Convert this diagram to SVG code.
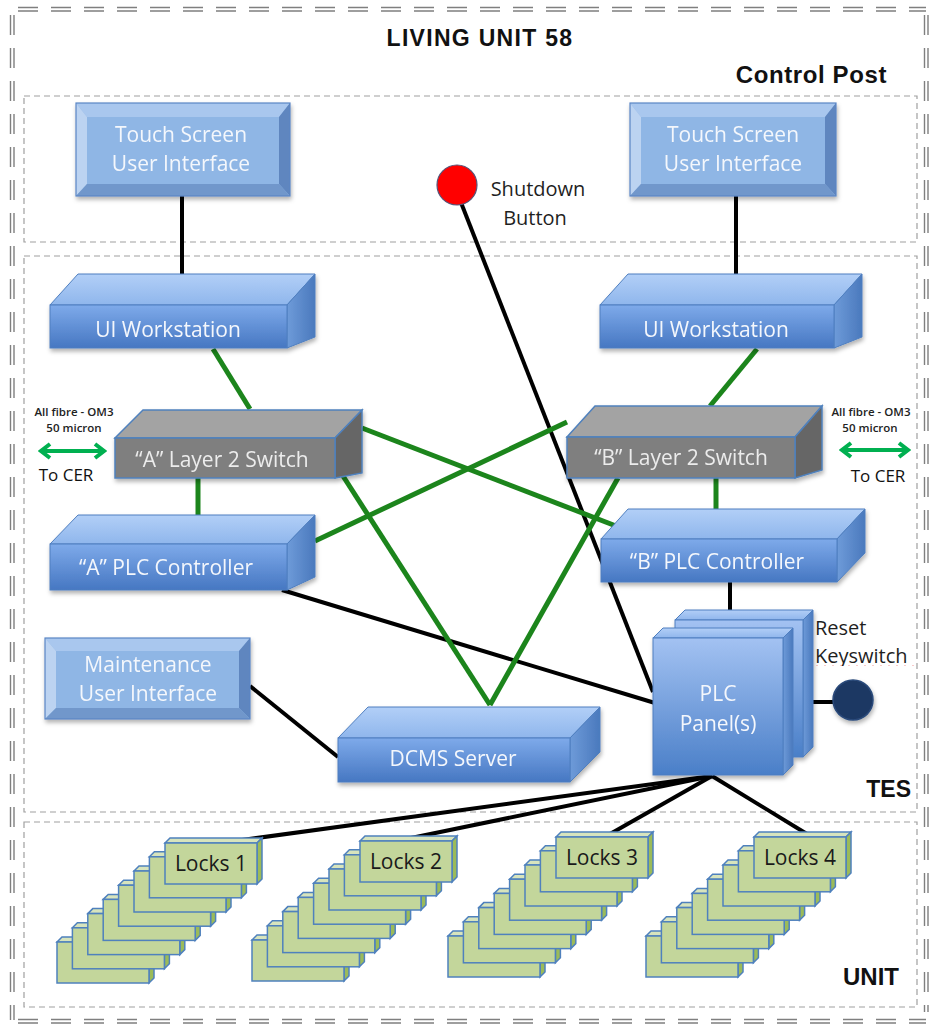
<svg xmlns="http://www.w3.org/2000/svg" xmlns:xlink="http://www.w3.org/1999/xlink" width="930" height="1027" viewBox="0 0 930 1027">
<defs>
<style>
.frame{fill:none;stroke:#7f7f7f;stroke-width:1.4;stroke-dasharray:20 13}
.panel{fill:none;stroke:#a0a0a0;stroke-width:1.2;stroke-dasharray:6 4}
.title{font-family:"Liberation Sans",Arial,sans-serif;font-weight:bold;fill:#111}
.lbl{font-family:"Open Sans","Liberation Sans",sans-serif;font-size:21px;fill:#f4f7fc;text-anchor:middle}
.lblg{font-family:"Open Sans","Liberation Sans",sans-serif;font-size:21px;fill:#ececec;text-anchor:middle}
.note{font-family:"Open Sans","Liberation Sans",sans-serif;font-size:20px;fill:#1f1f1f}
.small{font-family:"Open Sans","Liberation Sans",sans-serif;font-size:11.5px;font-weight:600;fill:#222;text-anchor:middle}
.cer{font-family:"Open Sans","Liberation Sans",sans-serif;font-size:17px;fill:#111;text-anchor:middle}
.lock{font-family:"Open Sans","Liberation Sans",sans-serif;font-size:21px;fill:#1a1a1a;text-anchor:middle}
.bf{fill:url(#gFront);stroke:#4f7fc0;stroke-width:1}
.bt{fill:url(#gTop);stroke:#4f7fc0;stroke-width:1}
.bs{fill:url(#gSide);stroke:#4f7fc0;stroke-width:1}
.gf{fill:#7f7f7f;stroke:#4f81bd;stroke-width:1.5}
.gt{fill:#a3a3a3;stroke:#4f81bd;stroke-width:1.5}
.gs{fill:#666;stroke:#4f81bd;stroke-width:1.5}
.bev-face{fill:#8fb6e5}
.bev-t{fill:#a9c7ee}
.bev-l{fill:#bcd3f1}
.bev-r{fill:#5f86bf}
.bev-b{fill:#7197cb}
.bev-o{fill:none;stroke:#5b86c5;stroke-width:1.2}
.lf{fill:#c3d69b;stroke:#4f81bd;stroke-width:1.5}
.lt{fill:#d7e4bd;stroke:#4f81bd;stroke-width:1.5}
.ls{fill:#9bbb59;stroke:#4f81bd;stroke-width:1.5}
.green{stroke:#1c851c;stroke-width:5;fill:none;stroke-linecap:butt}
.black{stroke:#000;stroke-width:4;fill:none}
.arrow{stroke:#00b050;stroke-width:4;fill:none;marker-start:url(#ah);marker-end:url(#ah)}
</style>
<linearGradient id="gFront" x1="0" y1="0" x2="0" y2="1"><stop offset="0" stop-color="#7eaaea"/><stop offset="1" stop-color="#4677c2"/></linearGradient>
<linearGradient id="gTop" x1="0" y1="0" x2="0" y2="1"><stop offset="0" stop-color="#b2cff7"/><stop offset="1" stop-color="#8fb6ec"/></linearGradient>
<linearGradient id="gSide" x1="0" y1="0" x2="1" y2="0"><stop offset="0" stop-color="#6e9bd9"/><stop offset="1" stop-color="#4a79bd"/></linearGradient>
<linearGradient id="gPanel" x1="0" y1="0" x2="0" y2="1"><stop offset="0" stop-color="#a3c2f2"/><stop offset="1" stop-color="#4a7fc8"/></linearGradient>
<marker id="ah" viewBox="0 0 14 18" refX="10" refY="9" markerWidth="14" markerHeight="18" markerUnits="userSpaceOnUse" orient="auto-start-reverse">
<path d="M2,2 L11,9 L2,16" fill="none" stroke="#00b050" stroke-width="4"/>
</marker>
<filter id="sh" x="-10%" y="-10%" width="130%" height="140%"><feDropShadow dx="1" dy="3" stdDeviation="2" flood-color="#000" flood-opacity="0.3"/></filter>
<g id="lockbox">
<polygon class="lt" points="0,0 5,-5 97,-5 92,0"/>
<polygon class="ls" points="92,0 97,-5 97,36 92,41"/>
<rect class="lf" x="0" y="0" width="92" height="41"/>
</g>
<clipPath id="kclip"><rect x="800" y="600" width="117" height="66"/></clipPath>
</defs>

<!-- outer frame -->
<g id="frame">
<line class="frame" x1="18" y1="7.5" x2="926" y2="7.5"/>
<line class="frame" x1="18" y1="11" x2="926" y2="11"/>
<line class="frame" x1="10.5" y1="15" x2="10.5" y2="1020"/>
<line class="frame" x1="14" y1="15" x2="14" y2="1020"/>
<line class="frame" x1="18" y1="1019.5" x2="926" y2="1019.5"/>
<line class="frame" x1="18" y1="1023" x2="926" y2="1023"/>
<line class="frame" x1="924.5" y1="15" x2="924.5" y2="1012"/>
<line class="frame" x1="928" y1="15" x2="928" y2="1012"/>
<rect class="panel" x="24" y="96" width="893" height="146"/>
<rect class="panel" x="24" y="256" width="893" height="556"/>
<rect class="panel" x="24" y="822" width="893" height="185"/>
<text class="title" x="480" y="46" font-size="23" letter-spacing="1.3" text-anchor="middle">LIVING UNIT 58</text>
<text class="title" x="887" y="83" font-size="24" letter-spacing="0.6" text-anchor="end">Control Post</text>
<text class="title" x="911" y="797" font-size="23" text-anchor="end">TES</text>
<text class="title" x="899" y="985" font-size="24" text-anchor="end">UNIT</text>
</g>

<!-- connectors -->
<g id="connectors">
<line class="black" x1="182" y1="196" x2="182" y2="276"/>
<line class="black" x1="736" y1="196" x2="736" y2="276"/>
<line class="black" x1="460" y1="200" x2="653" y2="692"/>
<line class="black" x1="282" y1="590" x2="655" y2="703"/>
<line class="black" x1="730" y1="582" x2="730" y2="614"/>
<line class="black" x1="793" y1="702" x2="836" y2="702"/>
<line class="black" x1="250" y1="686" x2="338" y2="757"/>
<line class="black" x1="712" y1="776" x2="242" y2="840"/>
<line class="black" x1="712" y1="776" x2="411" y2="838"/>
<line class="black" x1="712" y1="776" x2="610" y2="834"/>
<line class="black" x1="712" y1="776" x2="807" y2="834"/>
<line class="green" x1="213" y1="349" x2="250" y2="409"/>
<line class="green" x1="757" y1="349" x2="710" y2="406"/>
<line class="green" x1="198" y1="478" x2="198" y2="516"/>
<line class="green" x1="716" y1="478" x2="716" y2="511"/>
<line class="green" x1="362" y1="428" x2="616" y2="526"/>
<line class="green" x1="567" y1="422" x2="315" y2="541"/>
<line class="green" x1="343" y1="476" x2="490" y2="705"/>
<line class="green" x1="618" y1="478" x2="490" y2="705"/>
<line class="arrow" x1="42" y1="451" x2="103" y2="451"/>
<line class="arrow" x1="843" y1="450" x2="907" y2="450"/>
</g>

<!-- fibre notes -->
<g id="fibre-left">
<text class="small" x="74" y="416">All fibre - OM3</text>
<text class="small" x="74" y="432">50 micron</text>
<text class="cer" x="66" y="481">To CER</text>
</g>
<g id="fibre-right">
<text class="small" x="871" y="416">All fibre - OM3</text>
<text class="small" x="870" y="432">50 micron</text>
<text class="cer" x="878" y="482">To CER</text>
</g>

<!-- Touch screens -->
<g id="touch-left" filter="url(#sh)">
<rect class="bev-face" x="76" y="103" width="214" height="93"/>
<polygon class="bev-t" points="76,103 290,103 279,117 87,117"/>
<polygon class="bev-l" points="76,103 87,117 87,184 76,196"/>
<polygon class="bev-r" points="290,103 290,196 279,184 279,117"/>
<polygon class="bev-b" points="76,196 290,196 279,184 87,184"/>
<rect class="bev-o" x="76" y="103" width="214" height="93"/>
<text class="lbl" x="181" y="142">Touch Screen</text>
<text class="lbl" x="181" y="171">User Interface</text>
</g>
<g id="touch-right" filter="url(#sh)">
<rect class="bev-face" x="630" y="103" width="206" height="93"/>
<polygon class="bev-t" points="630,103 836,103 825,117 641,117"/>
<polygon class="bev-l" points="630,103 641,117 641,184 630,196"/>
<polygon class="bev-r" points="836,103 836,196 825,184 825,117"/>
<polygon class="bev-b" points="630,196 836,196 825,184 641,184"/>
<rect class="bev-o" x="630" y="103" width="206" height="93"/>
<text class="lbl" x="733" y="142">Touch Screen</text>
<text class="lbl" x="733" y="171">User Interface</text>
</g>
<g id="maintenance-ui" filter="url(#sh)">
<rect class="bev-face" x="45" y="638" width="205" height="81"/>
<polygon class="bev-t" points="45,638 250,638 239,651 56,651"/>
<polygon class="bev-l" points="45,638 56,651 56,708 45,719"/>
<polygon class="bev-r" points="250,638 250,719 239,708 239,651"/>
<polygon class="bev-b" points="45,719 250,719 239,708 56,708"/>
<rect class="bev-o" x="45" y="638" width="205" height="81"/>
<text class="lbl" x="148" y="672">Maintenance</text>
<text class="lbl" x="148" y="701">User Interface</text>
</g>

<!-- Shutdown button -->
<g id="shutdown">
<circle cx="457" cy="185" r="20" fill="#ff0000" stroke="#55557a" stroke-width="1.2"/>
<text class="note" x="538" y="196" text-anchor="middle">Shutdown</text>
<text class="note" x="535" y="225" text-anchor="middle">Button</text>
</g>

<!-- UI Workstations -->
<g id="uiws-left" filter="url(#sh)">
<polygon class="bt" points="50,305 78,274 315,274 287,305"/>
<polygon class="bs" points="287,305 315,274 315,337 287,348"/>
<rect class="bf" x="50" y="305" width="237" height="43"/>
<text class="lbl" x="168" y="337">UI Workstation</text>
</g>
<g id="uiws-right" filter="url(#sh)">
<polygon class="bt" points="600,305 628,274 862,274 834,305"/>
<polygon class="bs" points="834,305 862,274 862,337 834,348"/>
<rect class="bf" x="600" y="305" width="234" height="43"/>
<text class="lbl" x="716" y="337">UI Workstation</text>
</g>

<!-- Switches -->
<g id="switch-a" filter="url(#sh)">
<polygon class="gt" points="115,438 143,410 362,410 335,438"/>
<polygon class="gs" points="335,438 362,410 362,473 335,478"/>
<rect class="gf" x="115" y="438" width="220" height="40"/>
<text class="lblg" x="222" y="467">“A” Layer 2 Switch</text>
</g>
<g id="switch-b" filter="url(#sh)">
<polygon class="gt" points="567,437 595,406 822,406 795,437"/>
<polygon class="gs" points="795,437 822,406 822,470 795,478"/>
<rect class="gf" x="567" y="437" width="228" height="41"/>
<text class="lblg" x="681" y="465">“B” Layer 2 Switch</text>
</g>

<!-- PLC Controllers -->
<g id="plc-a" filter="url(#sh)">
<polygon class="bt" points="50,544 78,515 315,515 287,544"/>
<polygon class="bs" points="287,544 315,515 315,577 287,590"/>
<rect class="bf" x="50" y="544" width="237" height="46"/>
<text class="lbl" x="166" y="575">“A” PLC Controller</text>
</g>
<g id="plc-b" filter="url(#sh)">
<polygon class="bt" points="601,539 628,509 865,509 837,539"/>
<polygon class="bs" points="837,539 865,509 865,553 837,582"/>
<rect class="bf" x="601" y="539" width="236" height="43"/>
<text class="lbl" x="717" y="569">“B” PLC Controller</text>
</g>

<!-- DCMS Server -->
<g id="dcms" filter="url(#sh)">
<polygon class="bt" points="338,738 368,707 600,707 570,738"/>
<polygon class="bs" points="570,738 600,707 600,752 570,782"/>
<rect class="bf" x="338" y="738" width="232" height="44"/>
<text class="lbl" x="453" y="766">DCMS Server</text>
</g>

<!-- PLC Panels -->
<g id="plc-panels" filter="url(#sh)">
<polygon class="bt" points="675,620 685,610 813,610 803,620"/>
<polygon class="bs" points="803,620 813,610 813,747 803,757"/>
<rect x="675" y="620" width="128" height="137" fill="url(#gPanel)" stroke="#4f7fc0"/>
<polygon class="bt" points="653,638 663,628 793,628 783,638"/>
<polygon class="bs" points="783,638 793,628 793,765 783,775"/>
<rect x="653" y="638" width="130" height="137" fill="url(#gPanel)" stroke="#4f7fc0"/>
<text class="lbl" x="718" y="701">PLC</text>
<text class="lbl" x="718" y="731">Panel(s)</text>
</g>

<!-- Reset keyswitch -->
<g id="reset-keyswitch">
<circle cx="853" cy="700" r="20" fill="#1f3864" stroke="#2a4a7a" stroke-width="1.5" filter="url(#sh)"/>
<text class="note" x="815" y="635">Reset</text>
<g clip-path="url(#kclip)">
<text class="note" x="815" y="663">Keyswitch</text>
<path d="M815,667 q2,-2 4,0 t4,0 t4,0 t4,0 t4,0 t4,0 t4,0 t4,0 t4,0 t4,0 t4,0 t4,0 t4,0 t4,0 t4,0 t4,0 t4,0 t4,0 t4,0 t4,0 t4,0 t4,0 t4,0 t4,0 t4,0" fill="none" stroke="#e03030" stroke-width="1"/>
</g>
</g>

<!-- Locks stacks -->
<g id="locks-1">
<use xlink:href="#lockbox" x="57" y="942"/>
<use xlink:href="#lockbox" x="72.4" y="927.8"/>
<use xlink:href="#lockbox" x="87.8" y="913.6"/>
<use xlink:href="#lockbox" x="103.2" y="899.4"/>
<use xlink:href="#lockbox" x="118.6" y="885.2"/>
<use xlink:href="#lockbox" x="134" y="871"/>
<use xlink:href="#lockbox" x="149.4" y="856.8"/>
<use xlink:href="#lockbox" x="165" y="843"/>
<text class="lock" x="211" y="871">Locks 1</text>
</g>
<g id="locks-2">
<use xlink:href="#lockbox" x="252" y="940"/>
<use xlink:href="#lockbox" x="267.4" y="925.8"/>
<use xlink:href="#lockbox" x="282.8" y="911.6"/>
<use xlink:href="#lockbox" x="298.2" y="897.4"/>
<use xlink:href="#lockbox" x="313.6" y="883.2"/>
<use xlink:href="#lockbox" x="329" y="869"/>
<use xlink:href="#lockbox" x="344.4" y="854.8"/>
<use xlink:href="#lockbox" x="360" y="841"/>
<text class="lock" x="406" y="869">Locks 2</text>
</g>
<g id="locks-3">
<use xlink:href="#lockbox" x="448" y="936"/>
<use xlink:href="#lockbox" x="463.4" y="921.8"/>
<use xlink:href="#lockbox" x="478.8" y="907.6"/>
<use xlink:href="#lockbox" x="494.2" y="893.4"/>
<use xlink:href="#lockbox" x="509.6" y="879.2"/>
<use xlink:href="#lockbox" x="525" y="865"/>
<use xlink:href="#lockbox" x="540.4" y="850.8"/>
<use xlink:href="#lockbox" x="556" y="837"/>
<text class="lock" x="602" y="865">Locks 3</text>
</g>
<g id="locks-4">
<use xlink:href="#lockbox" x="646" y="936"/>
<use xlink:href="#lockbox" x="661.4" y="921.8"/>
<use xlink:href="#lockbox" x="676.8" y="907.6"/>
<use xlink:href="#lockbox" x="692.2" y="893.4"/>
<use xlink:href="#lockbox" x="707.6" y="879.2"/>
<use xlink:href="#lockbox" x="723" y="865"/>
<use xlink:href="#lockbox" x="738.4" y="850.8"/>
<use xlink:href="#lockbox" x="754" y="837"/>
<text class="lock" x="800" y="865">Locks 4</text>
</g>
</svg>
